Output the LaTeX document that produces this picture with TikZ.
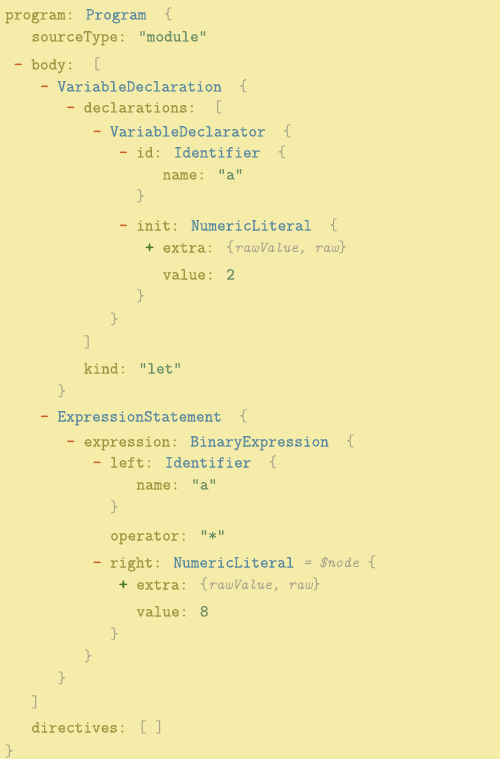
\documentclass[tikz,border=0pt]{standalone}
\usepackage{fontspec}
\newfontfamily\astfont[FakeBold = 0.6]{Latin Modern Mono}
\newfontfamily\astlightfont{Latin Modern Mono}
\newfontfamily\astheavyfont[FakeBold = 2.5]{Latin Modern Mono}

\definecolor{astbg}{HTML}{F5ECAA}
\definecolor{astkeycol}{HTML}{A09640}
\definecolor{asttypecol}{HTML}{5A8AA0}
\definecolor{aststrcol}{HTML}{6E9068}
\definecolor{astpunctcol}{HTML}{A3A08A}
\definecolor{astminuscol}{HTML}{CD5F28}
\definecolor{astpluscol}{HTML}{467A28}

\newcommand{\astkey}[1]{\textcolor{astkeycol}{#1}}
\newcommand{\asttype}[1]{\textcolor{asttypecol}{#1}}
\newcommand{\aststr}[1]{\textcolor{aststrcol}{#1}}
\newcommand{\astpunct}[1]{\textcolor{astpunctcol}{\astlightfont #1}}
\newcommand{\astminus}{\textcolor{astminuscol}{\astheavyfont -}~}
\newcommand{\astplus}{\textcolor{astpluscol}{\astheavyfont +}~}
\newcommand{\astnote}[1]{\textcolor{astpunctcol}{\astlightfont\fontsize{15.2}{18}\selectfont\itshape #1}}

\begin{document}
\begin{tikzpicture}[x = 1pt, y = -1pt,
	codeline/.style = {anchor = base west, inner sep = 0pt, font = \astfont\fontsize{16.8}{19}\selectfont}]

	% Background

	\fill [astbg] (0, 0) rectangle (500, 759);
	\useasboundingbox (0, 0) rectangle (500, 759);

	% Program and body

	\node [codeline] (program) at (5, 19.5) {\astkey{program:} \asttype{Program}~~\astpunct{\{}};
	\node [codeline] (sourcetype) at (31.25, 41.5) {\astkey{sourceType:} \aststr{"module"}};
	\node [codeline] (body) at (13.75, 69.5) {\astminus\astkey{body:}~~\astpunct{[}};

	% Variable declaration

	\node [codeline] (vardecl) at (40, 91.5) {\astminus\asttype{VariableDeclaration}~~\astpunct{\{}};
	\node [codeline] (declarations) at (66.25, 112.5) {\astminus\astkey{declarations:}~~\astpunct{[}};
	\node [codeline] (declarator) at (92.5, 136.5) {\astminus\asttype{VariableDeclarator}~~\astpunct{\{}};
	\node [codeline] (id) at (118.75, 157.5) {\astminus\astkey{id:} \asttype{Identifier}~~\astpunct{\{}};
	\node [codeline] (idname) at (162.5, 179.5) {\astkey{name:} \aststr{"a"}};
	\node [codeline] (idclose) at (136.25, 202) {\astpunct{\}}};
	\node [codeline] (init) at (118.75, 230.5) {\astminus\astkey{init:} \asttype{NumericLiteral}~~\astpunct{\{}};
	\node [codeline] (initextra) at (145, 252.5) {\astplus\astkey{extra:} \astpunct{\{}\astnote{rawValue, raw}\astpunct{\}}};
	\node [codeline] (initvalue) at (162.5, 279.5) {\astkey{value:} \aststr{2}};
	\node [codeline] (initclose) at (136.25, 301) {\astpunct{\}}};
	\node [codeline] (declaratorclose) at (110, 324) {\astpunct{\}}};
	\node [codeline] (declarationsclose) at (83.75, 347) {\astpunct{]}};
	\node [codeline] (kind) at (83.75, 373.5) {\astkey{kind:} \aststr{"let"}};
	\node [codeline] (vardeclclose) at (57.5, 396) {\astpunct{\}}};

	% Expression statement

	\node [codeline] (exprstmt) at (40, 421.5) {\astminus\asttype{ExpressionStatement}~~\astpunct{\{}};
	\node [codeline] (expression) at (66.25, 446.5) {\astminus\astkey{expression:} \asttype{BinaryExpression}~~\astpunct{\{}};
	\node [codeline] (left) at (92.5, 467.5) {\astminus\astkey{left:} \asttype{Identifier}~~\astpunct{\{}};
	\node [codeline] (leftname) at (136.25, 489.5) {\astkey{name:} \aststr{"a"}};
	\node [codeline] (leftclose) at (110, 512) {\astpunct{\}}};
	\node [codeline] (operator) at (110, 540.5) {\astkey{operator:} \aststr{"*"}};
	\node [codeline] (right) at (92.5, 567.5) {\astminus\astkey{right:} \asttype{NumericLiteral} \astnote{= \$node} \astpunct{\{}};
	\node [codeline] (rightextra) at (118.75, 589.5) {\astplus\astkey{extra:} \astpunct{\{}\astnote{rawValue, raw}\astpunct{\}}};
	\node [codeline] (rightvalue) at (136.25, 616.5) {\astkey{value:} \aststr{8}};
	\node [codeline] (rightclose) at (110, 639) {\astpunct{\}}};
	\node [codeline] (expressionclose) at (83.75, 661) {\astpunct{\}}};
	\node [codeline] (exprstmtclose) at (57.5, 683) {\astpunct{\}}};

	% Closing lines

	\node [codeline] (bodyclose) at (31.25, 707) {\astpunct{]}};
	\node [codeline] (directives) at (31.25, 732.5) {\astkey{directives:} \astpunct{[ ]}};
	\node [codeline] (programclose) at (5, 756) {\astpunct{\}}};

\end{tikzpicture}
\end{document}
